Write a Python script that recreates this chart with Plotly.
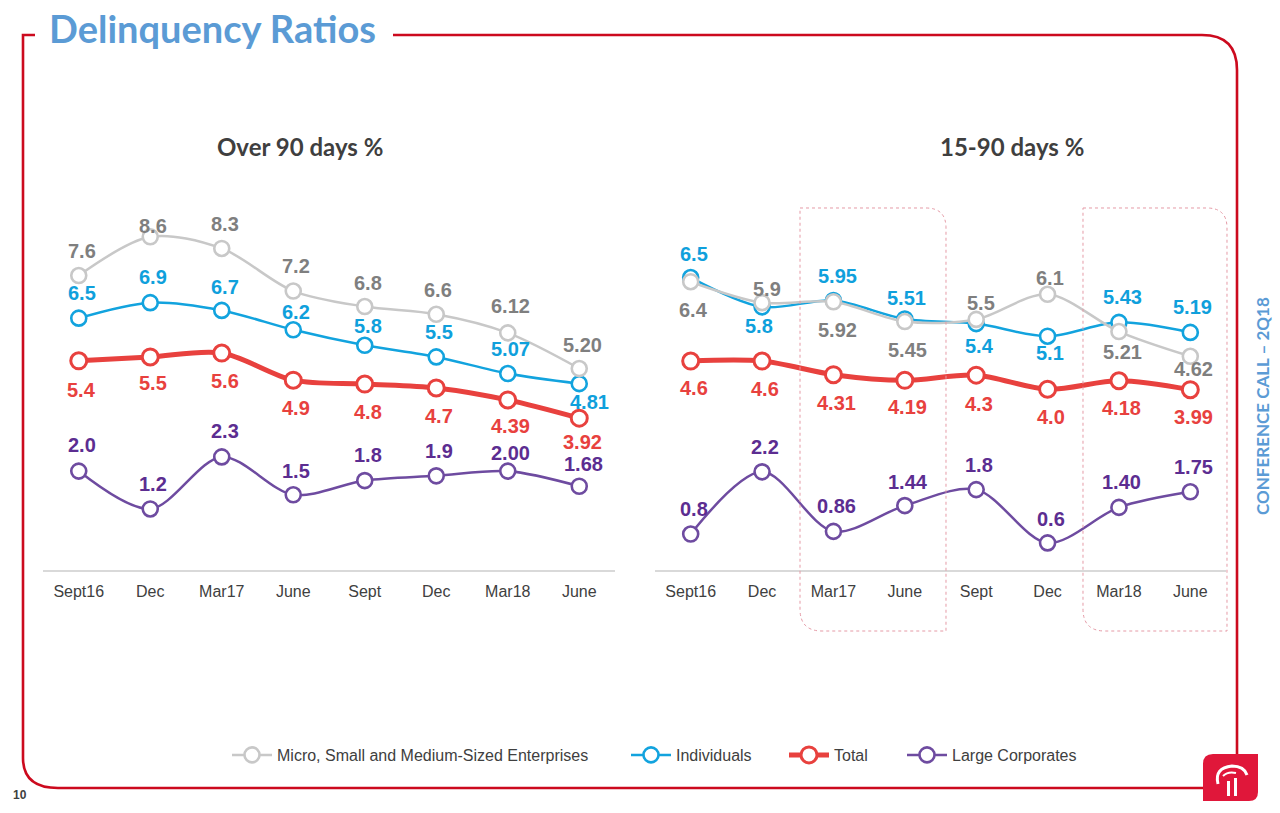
import plotly.graph_objects as go

W, H = 1280, 813

# ---------------- data ----------------
categories = ["Sept16", "Dec", "Mar17", "June", "Sept", "Dec", "Mar18", "June"]
series_names = ["Micro, Small and Medium-Sized Enterprises", "Individuals", "Total", "Large Corporates"]

over90_msme = ["7.6", "8.6", "8.3", "7.2", "6.8", "6.6", "6.12", "5.20"]
over90_ind = ["6.5", "6.9", "6.7", "6.2", "5.8", "5.5", "5.07", "4.81"]
over90_total = ["5.4", "5.5", "5.6", "4.9", "4.8", "4.7", "4.39", "3.92"]
over90_large = ["2.0", "1.2", "2.3", "1.5", "1.8", "1.9", "2.00", "1.68"]

d1590_msme = ["6.4", "5.9", "5.92", "5.45", "5.5", "6.1", "5.21", "4.62"]
d1590_ind = ["6.5", "5.8", "5.95", "5.51", "5.4", "5.1", "5.43", "5.19"]
d1590_total = ["4.6", "4.6", "4.31", "4.19", "4.3", "4.0", "4.18", "3.99"]
d1590_large = ["0.8", "2.2", "0.86", "1.44", "1.8", "0.6", "1.40", "1.75"]

# ---------------- styles ----------------
LINE_COLORS = ["#C8C8C8", "#12A3DE", "#E8413E", "#6E4BA0"]
LABEL_COLORS = ["#7F7F7F", "#0FA0DC", "#E8413E", "#5C2D91"]
LINE_WIDTHS = [2.5, 2.5, 5, 2.5]
DRAW_ORDER = [1, 0, 2, 3]  # gray drawn above blue
LEGEND_TEXT_X = [276, 675, 833, 951]  # left pixel of legend text

# label offsets in pixels (dy: + is downward on screen)
L_DY = [
    [-25, -11, -24, -25, -24, -24, -27, -24],
    [-25, -26, -23, -18, -19, -25, -25, 18],
    [29, 26, 28, 28, 28, 28, 26, 24],
    [-26, -25, -26, -24, -26, -25, -18, -22],
]
L_DX = [
    [3, 3, 3, 3, 3, 2, 3, 3],
    [3, 3, 3, 3, 3, 3, 3, 10],
    [3, 3, 3, 3, 3, 3, 3, 3],
    [3, 3, 3, 3, 3, 3, 3, 4],
]
R_DY = [
    [28, -14, 28, 28, -16, -16, 20, 13],
    [-24, 19, -25, -21, 22, 17, -25, -25],
    [27, 28, 28, 27, 29, 28, 27, 27],
    [-25, -25, -25, -24, -25, -24, -25, -25],
]
R_DX = [
    [3, 5, 4, 3, 5, 2, 4, 3],
    [3, -3, 4, 2, 3, 2, 4, 2],
    [3, 3, 3, 3, 3, 3, 3, 3],
    [3, 3, 3, 3, 3, 3, 3, 3],
]


def px(x):
    return x / W


def py(y):
    return 1 - y / H


Y_DOM = [py(570), py(200)]
xs = list(range(len(categories)))

fig = go.Figure()

left = [over90_msme, over90_ind, over90_total, over90_large]
right = [d1590_msme, d1590_ind, d1590_total, d1590_large]
left_axes = ["y", "y", "y", "y2"]
right_axes = ["y3", "y3", "y4", "y5"]
legend_ids = ["legend", "legend2", "legend3", "legend4"]

annotations = []

for panel, (data, axes, xa, DY, DX) in enumerate([
    (left, left_axes, "x", L_DY, L_DX),
    (right, right_axes, "x2", R_DY, R_DX),
]):
    for i in DRAW_ORDER:
        vals = [float(s) for s in data[i]]
        fig.add_trace(go.Scatter(
            x=xs, y=vals, xaxis=xa, yaxis=axes[i],
            mode="lines+markers", name=series_names[i],
            showlegend=(panel == 0), legend=legend_ids[i],
            line=dict(color=LINE_COLORS[i], width=LINE_WIDTHS[i], shape="spline", smoothing=0.9),
            marker=dict(symbol="circle", size=15 if i != 2 else 16, color="white",
                        line=dict(color=LINE_COLORS[i], width=2.6 if i != 2 else 3)),
            cliponaxis=False, hoverinfo="skip",
        ))
        for k, s in enumerate(data[i]):
            annotations.append(dict(
                x=xs[k], y=float(s), xref=xa, yref=axes[i], text=s, showarrow=False,
                xanchor="center", yanchor="middle", xshift=DX[i][k], yshift=-DY[i][k],
                font=dict(family="Liberation Sans", size=20, color=LABEL_COLORS[i], weight="bold"),
            ))

axis_common = dict(visible=False, domain=Y_DOM, fixedrange=True)
xaxis_common = dict(
    tickmode="array", tickvals=xs, ticktext=categories, range=[-0.5, 7.5],
    showline=True, linecolor="#D9D9D9", linewidth=1.5, showgrid=False, zeroline=False,
    ticks="", ticklabelstandoff=6, fixedrange=True,
    tickfont=dict(family="Liberation Sans", size=16, color="#404040"),
)

# title and texts
annotations += [
    dict(x=px(47), y=py(28), xref="paper", yref="paper", xanchor="left", yanchor="middle",
         text="<b>Delinquency Ratios</b>", showarrow=False,
         font=dict(family="Lato", size=38, color="#5B9BD5")),
    dict(x=px(300), y=py(146), xref="paper", yref="paper", xanchor="center", yanchor="middle",
         text="<b>Over 90 days %</b>", showarrow=False,
         font=dict(family="Lato", size=24, color="#3F3F3F")),
    dict(x=px(1012), y=py(146), xref="paper", yref="paper", xanchor="center", yanchor="middle",
         text="<b>15-90 days %</b>", showarrow=False,
         font=dict(family="Lato", size=24, color="#3F3F3F")),
    dict(x=px(1262), y=py(406), xref="paper", yref="paper", xanchor="center", yanchor="middle",
         text="<b>CONFERENCE CALL – 2Q18</b>", showarrow=False, textangle=-90,
         font=dict(family="Lato", size=17, color="#5B9BD5")),
    dict(x=px(20), y=py(795), xref="paper", yref="paper", xanchor="center", yanchor="middle",
         text="<b>10</b>", showarrow=False,
         font=dict(family="Liberation Sans", size=12, color="#404040")),
]


def path_str(cmds):
    out = []
    for c in cmds:
        if isinstance(c, str):
            out.append(c)
        else:
            out.append(f"{px(c[0]):.5f},{py(c[1]):.5f}")
    return " ".join(out)


RED = "#CC0A1E"
shapes = []
# frame
shapes.append(dict(type="path", xref="paper", yref="paper",
                   path=path_str(["M", (35, 35), "L", (23, 35), "L", (23, 758), "Q", (23, 788), (58, 788), "L", (1204, 788)]),
                   line=dict(color=RED, width=2.6)))
shapes.append(dict(type="path", xref="paper", yref="paper",
                   path=path_str(["M", (393, 35), "L", (1202, 35), "Q", (1237, 35), (1237, 70), "L", (1237, 755)]),
                   line=dict(color=RED, width=2.6)))
# dotted highlight boxes
for x0, x1 in [(800, 946), (1083, 1227)]:
    shapes.append(dict(type="path", xref="paper", yref="paper",
                       path=path_str(["M", (x0, 208), "L", (x1 - 20, 208), "Q", (x1, 208), (x1, 228),
                                      "L", (x1, 631), "L", (x0 + 22, 631), "Q", (x0, 631), (x0, 609), "Z"]),
                       line=dict(color="#E59AA6", width=1, dash="dot")))
# logo
shapes.append(dict(type="path", xref="paper", yref="paper",
                   path=path_str(["M", (1203, 764), "Q", (1203, 754), (1213, 754), "L", (1258, 754), "L", (1258, 792),
                                  "Q", (1258, 801), (1249, 801), "L", (1203, 801), "Z"]),
                   fillcolor="#E0173A", line=dict(width=0)))
shapes.append(dict(type="path", xref="paper", yref="paper",
                   path=path_str(["M", (1218, 784), "Q", (1214, 768), (1232, 766), "Q", (1244, 766), (1247, 775)]),
                   line=dict(color="white", width=3)))
shapes.append(dict(type="path", xref="paper", yref="paper",
                   path=path_str(["M", (1223, 776), "Q", (1228, 771), (1236, 773)]),
                   line=dict(color="white", width=2)))
for bx in [1227, 1234]:
    shapes.append(dict(type="rect", xref="paper", yref="paper",
                       x0=px(bx), x1=px(bx + 3), y0=py(796), y1=py(781 if bx == 1227 else 778),
                       fillcolor="white", line=dict(width=0)))

legend_common = dict(orientation="h", xanchor="left", yanchor="middle", y=py(755),
                     font=dict(family="Liberation Sans", size=16, color="#404040"),
                     itemwidth=40, bgcolor="rgba(0,0,0,0)")
legends = {}
for i, lid in enumerate(legend_ids):
    legends[lid] = dict(x=px(LEGEND_TEXT_X[i] - 49), **legend_common)

fig.update_layout(
    width=W, height=H,
    margin=dict(l=0, r=0, t=0, b=0),
    paper_bgcolor="white", plot_bgcolor="rgba(0,0,0,0)",
    xaxis=dict(domain=[px(43), px(615)], anchor="y", **xaxis_common),
    xaxis2=dict(domain=[px(655), px(1226)], anchor="y3", **xaxis_common),
    yaxis=dict(range=[0, 9.55], anchor="x", **axis_common),
    yaxis2=dict(range=[-0.09, 7.73], anchor="x", overlaying="y", **axis_common),
    yaxis3=dict(range=[-0.48, 8.35], anchor="x2", **axis_common),
    yaxis4=dict(range=[0.15, 8.03], anchor="x2", overlaying="y3", **axis_common),
    yaxis5=dict(range=[-0.01, 8.32], anchor="x2", overlaying="y3", **axis_common),
    showlegend=True,
    annotations=annotations,
    shapes=shapes,
    hovermode=False,
    **legends,
)

fig.write_html(
    "out.html",
    config={"displayModeBar": False, "staticPlot": True},
    post_script="document.body.style.margin='0';document.body.style.overflow='hidden';",
)
